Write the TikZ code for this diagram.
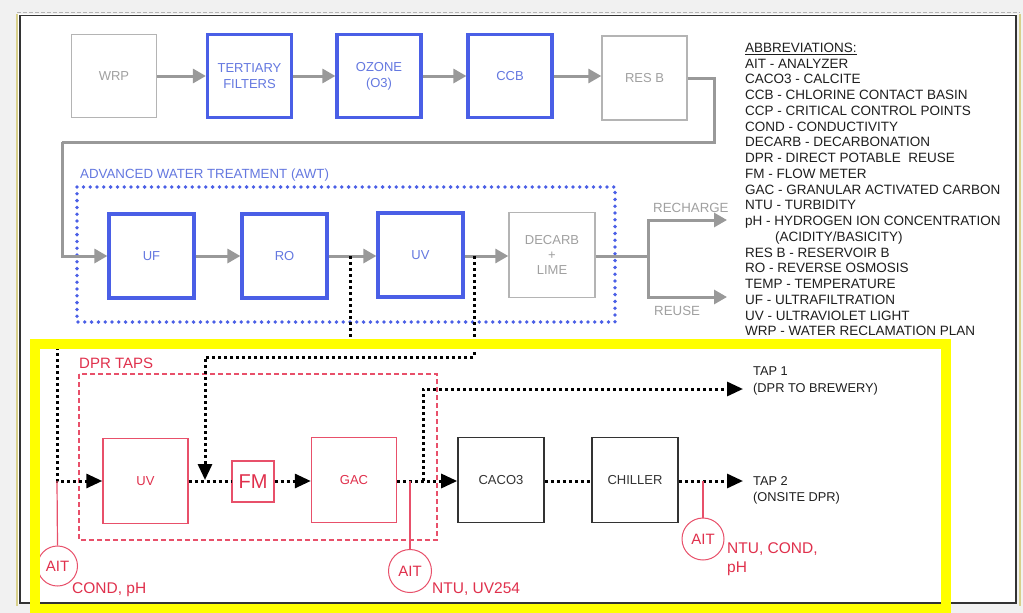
\documentclass[tikz,border=0pt]{standalone}
\usepackage{fontspec}
\setmainfont{Liberation Sans}
\usetikzlibrary{arrows.meta}
\definecolor{bgout}{HTML}{F1F1F1}
\definecolor{framedark}{HTML}{333333}
\definecolor{frameyel}{HTML}{D8D08C}
\definecolor{bluec}{HTML}{4A5FE6}
\definecolor{bluetxt}{HTML}{6478E0}
\definecolor{boxgray}{HTML}{B4B4B4}
\definecolor{txtgray}{HTML}{A0A0A0}
\definecolor{arrowgray}{HTML}{999999}
\definecolor{redc}{HTML}{E0304C}
\definecolor{redline}{HTML}{E8506A}
\definecolor{blackc}{HTML}{333333}
\definecolor{abbrc}{HTML}{1E1E1E}
\definecolor{hlyellow}{HTML}{FFFF00}
\begin{document}
\begin{tikzpicture}[x=1pt,y=-1pt,
  box/.style={rectangle,inner sep=0pt,align=center,font=\fontsize{13}{16}\selectfont},
  graybox/.style={box,draw=boxgray,line width=1.4pt,text=txtgray,minimum width=85pt,minimum height=83pt},
  bluebox/.style={box,draw=bluec,line width=3.2pt,text=bluetxt,minimum width=84pt,minimum height=83pt},
  redbox/.style={box,draw=redline,line width=1.4pt,text=redc,minimum width=85pt,minimum height=85pt},
  blackbox/.style={box,draw=blackc,line width=1.6pt,text=blackc,minimum width=86pt,minimum height=85pt},
  grayflow/.style={draw=arrowgray,line width=3pt},
  grayarrow/.style={grayflow,-{Triangle[length=13pt,width=14pt]}},
  dotflow/.style={draw=black,line width=3pt,dash pattern=on 3pt off 3pt},
  dotarrow/.style={dotflow,-{Triangle[length=16pt,width=14pt]}},
  aitc/.style={circle,draw=redline,line width=1pt,text=redc,inner sep=0pt,minimum size=40pt,font=\fontsize{15}{18}\selectfont},
  redlabel/.style={anchor=base west,text=redc,inner sep=0pt,font=\fontsize{15.5}{19}\selectfont},
  graylabel/.style={anchor=base west,text=txtgray,inner sep=0pt,font=\fontsize{13.3}{16}\selectfont},
  taplabel/.style={anchor=base west,text=abbrc,inner sep=0pt,font=\fontsize{12.8}{16}\selectfont},
  abbr/.style={anchor=base west,text=abbrc,inner sep=0pt,font=\fontsize{13.5}{16}\selectfont},
  sensor/.style={draw=redline,line width=1.2pt}
]
\useasboundingbox (0,0) rectangle (1023,613);
% page frame
\fill[bgout] (0,0) rectangle (1023,613);
\fill[white] (18,14) rectangle (1017,604);
\draw[frameyel,line width=1.5pt] (17,14) -- (17,606);
\draw[frameyel,line width=1.5pt] (1020,14) -- (1020,606);
\draw[boxgray,line width=1pt,dash pattern=on 4pt off 2pt] (17,12.5) -- (1020,12.5);
\draw[framedark,line width=1.3pt] (20,15.5) rectangle (1016,603);

% top row
\node[graybox] (wrp) at (114,76) {WRP};
\node[bluebox] (tert) at (249.5,76) {TERTIARY\\FILTERS};
\node[bluebox] (ozone) at (379,76) {OZONE\\(O3)};
\node[bluebox] (ccb) at (510,76) {CCB};
\node[graybox,minimum height=84pt] (resb) at (644.5,78) {RES B};
\draw[grayarrow] (wrp.east) -- (tert.west);
\draw[grayarrow] (tert.east) -- (ozone.west);
\draw[grayarrow] (ozone.east) -- (ccb.west);
\draw[grayarrow] (ccb.east) -- (ccb.east -| resb.west);
\coordinate (r1) at (714,142);
\coordinate (r2) at (62,142);

% AWT
\node[anchor=base west,text=bluetxt,inner sep=0pt,font=\fontsize{13.3}{16}\selectfont] (awtlab) at (80,178) {ADVANCED WATER TREATMENT (AWT)};
\draw[bluec,line width=3.8pt,dash pattern=on 0pt off 6.8pt,line cap=round] (77,187) rectangle (615,322);
\node[bluebox,minimum width=85pt,minimum height=84pt] (uf) at (151.5,256) {UF};
\node[bluebox,minimum width=85pt,minimum height=84pt] (ro) at (284.5,256) {RO};
\node[bluebox,minimum width=85pt,minimum height=84pt] (uva) at (420.5,255) {UV};
\node[graybox,minimum width=86pt,minimum height=85pt,font=\fontsize{13}{15}\selectfont] (decarb) at (552,255) {DECARB\\+\\LIME};
\draw[grayflow] (resb.east) -| (r1) -- (r2);
\draw[grayarrow] (r2) |- (uf.west);
\draw[grayarrow] (uf.east) -- (ro.west);
\draw[grayarrow] (ro.east) -- (ro.east -| uva.west);
\draw[grayarrow] (uva.east |- uf.east) -- (uva.east |- uf.east -| decarb.west);
\coordinate (split) at (648,256);
\coordinate (rech) at (727,220);
\coordinate (reuse) at (727,297);
\draw[grayflow] (decarb.east |- split) -- (split);
\draw[grayarrow] (split) |- (rech);
\draw[grayarrow] (split) |- (reuse);
\node[graylabel] (rechlab) at (653,212) {RECHARGE};
\node[graylabel] (reuselab) at (654,315) {REUSE};

% abbreviations
\foreach \t [count=\i from 0] in {
  \underline{ABBREVIATIONS:},
  AIT - ANALYZER,
  CACO3 - CALCITE,
  CCB - CHLORINE CONTACT BASIN,
  CCP - CRITICAL CONTROL POINTS,
  COND - CONDUCTIVITY,
  DECARB - DECARBONATION,
  DPR - DIRECT POTABLE\ \ REUSE,
  FM - FLOW METER,
  GAC - GRANULAR ACTIVATED CARBON,
  NTU - TURBIDITY,
  pH - HYDROGEN ION CONCENTRATION,
  \hspace*{30pt}(ACIDITY/BASICITY),
  RES B - RESERVOIR B,
  RO - REVERSE OSMOSIS,
  TEMP - TEMPERATURE,
  UF - ULTRAFILTRATION,
  UV - ULTRAVIOLET LIGHT,
  WRP - WATER RECLAMATION PLAN}
  { \node[abbr] (ab\i) at (745,52.3+15.76*\i) {\t}; }

% DPR taps
\node[redlabel,font=\fontsize{15}{18}\selectfont] (dprlab) at (79,368) {DPR TAPS};
\draw[redline,line width=1.2pt,dash pattern=on 5pt off 3pt] (79,374) rectangle (437,540);
\node[redbox] (uvd) at (145.5,481) {UV};
\node[redbox,minimum width=42pt,minimum height=41pt,font=\fontsize{20}{24}\selectfont] (fm) at (253,481.5) {FM};
\node[redbox] (gac) at (354,480) {GAC};
\node[blackbox] (caco) at (501,480) {CACO3};
\node[blackbox] (chill) at (635,480) {CHILLER};

\coordinate (j1) at (350,256);
\coordinate (k2) at (57,344);
\coordinate (j2) at (474,256);
\coordinate (k4) at (205,357);
\coordinate (fmin) at (205,480);
\coordinate (j3) at (423,481);
\coordinate (tap1) at (743,389);
\coordinate (tap2) at (743,481);
\coordinate (s1) at (57,481);
\coordinate (s2) at (410,481);
\coordinate (s3) at (703,481);

\draw[dotarrow] (j1) |- (k2) |- (uvd.west);
\draw[dotarrow] (j2) |- (k4) -- (fmin);
\draw[dotflow] (uvd.east) -- (uvd.east -| fm.west);
\draw[dotarrow] (fm.east |- uvd.east) -- (uvd.east -| gac.west);
\draw[dotarrow] (gac.east |- uvd.east) -- (uvd.east -| caco.west);
\draw[dotflow] (caco.east |- uvd.east) -- (uvd.east -| chill.west);
\draw[dotarrow] (chill.east |- uvd.east) -- (tap2);
\draw[dotarrow] (j3) |- (tap1);

\node[taplabel] (t1a) at (753,375) {TAP 1};
\node[taplabel] (t1b) at (753,392) {(DPR TO BREWERY)};
\node[taplabel] (t2a) at (753,485) {TAP 2};
\node[taplabel] (t2b) at (753,501) {(ONSITE DPR)};

% analyzers
\node[aitc] (ait1) at (57.5,566) {AIT};
\node[aitc,minimum size=43pt] (ait2) at (410,571) {AIT};
\node[aitc,minimum size=42pt] (ait3) at (703,539) {AIT};
\draw[sensor] (s1) -- (ait1.north);
\draw[sensor] (s2) -- (ait2.north);
\draw[sensor] (s3) -- (ait3.north);
\node[redlabel] (l1) at (72,593) {COND, pH};
\node[redlabel] (l2) at (432,593) {NTU, UV254};
\node[redlabel] (l3a) at (727,553) {NTU, COND,};
\node[redlabel] (l3b) at (727,572) {pH};

% highlight
\draw[hlyellow,line width=10pt] (35,344) rectangle (946,609);
\end{tikzpicture}
\end{document}
